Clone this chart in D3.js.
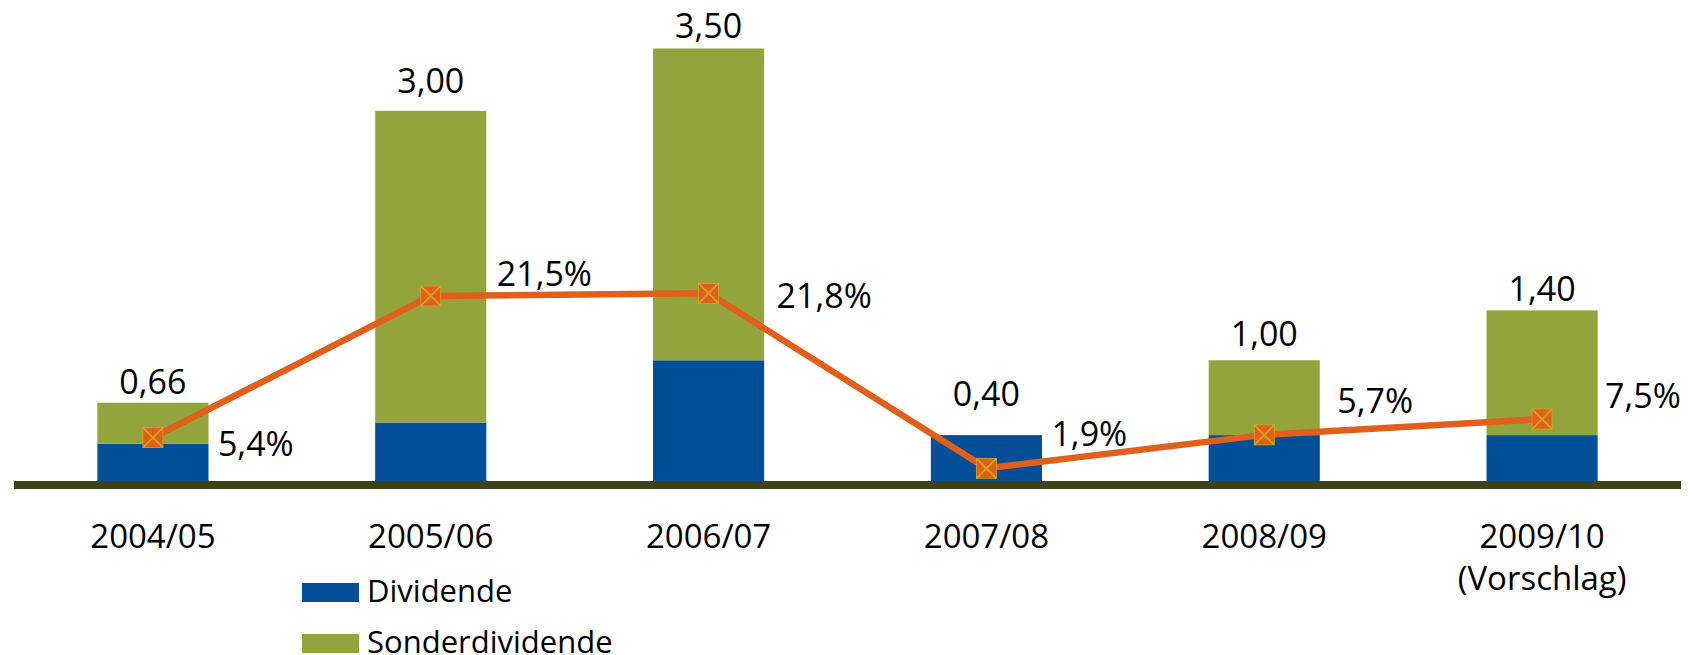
<!DOCTYPE html>
<html lang="de">

<head>
    <meta charset="UTF-8">
    <title>Dividende und Sonderdividende</title>
    <script src="https://d3js.org/d3.v7.min.js"></script>
    <style>
        body {
            margin: 0;
            background: #fff;
        }

        text {
            font-family: "Open Sans", "DejaVu Sans", sans-serif;
            fill: #000;
        }

        .value-label,
        .pct-label {
            font-size: 34px;
        }

        .cat-label {
            font-size: 33px;
        }

        .legend-label {
            font-size: 31px;
        }
    </style>
</head>

<body>
    <svg id="chart" width="1693" height="655"></svg>

    <script>
        // Data
        const categories = ["2004/05", "2005/06", "2006/07", "2007/08", "2008/09", "2009/10\n(Vorschlag)"];
        const dividende = [0.33, 0.50, 1.00, 0.40, 0.40, 0.40];
        const sonderdividende = [0.33, 2.50, 2.50, 0.00, 0.60, 1.00];
        const totals = ["0,66", "3,00", "3,50", "0,40", "1,00", "1,40"];
        const rendite = [5.4, 21.5, 21.8, 1.9, 5.7, 7.5];
        const renditeLabels = ["5,4%", "21,5%", "21,8%", "1,9%", "5,7%", "7,5%"];
        const seriesNames = ["Dividende", "Sonderdividende"];

        // Label placement (hand placed in the original)
        const totalGap = [9, 18, 11, 29, 14, 9];
        const pctDx = [65, 66, 68, 65, 73, 63];
        const pctDy = [18, -10, 15, -22, -22, -11];

        const colors = { div: "#004f98", sonder: "#94a43d", line: "#df5f1b", cross: "#d7a51e", axis: "#3c4219" };

        const svg = d3.select("#chart");

        const x = d3.scaleBand()
            .domain(categories)
            .range([14, 1681])
            .paddingInner(0.6)
            .paddingOuter(0.3);

        // Bars: primary axis
        const y = d3.scaleLinear()
            .domain([0, 3.5])
            .range([485, 48.5]);

        // Line: secondary axis (%)
        const y2 = d3.scaleLinear()
            .domain([0, 25])
            .range([485, 265.2]);

        const rows = categories.map((c, i) => ({
            cat: c,
            div: dividende[i],
            sonder: sonderdividende[i],
            total: totals[i],
            pct: rendite[i],
            pctLabel: renditeLabels[i],
            i: i
        }));

        const stack = d3.stack().keys(["div", "sonder"])(rows);

        svg.append("g")
            .selectAll("g")
            .data(stack)
            .join("g")
            .attr("fill", d => colors[d.key])
            .selectAll("rect")
            .data(d => d)
            .join("rect")
            .attr("x", d => x(d.data.cat))
            .attr("width", x.bandwidth())
            .attr("y", d => y(d[1]))
            .attr("height", d => y(d[0]) - y(d[1]));

        // Total labels above bars
        svg.selectAll(".value-label")
            .data(rows)
            .join("text")
            .attr("class", "value-label")
            .attr("text-anchor", "middle")
            .attr("x", d => x(d.cat) + x.bandwidth() / 2)
            .attr("y", d => y(d.div + d.sonder) - totalGap[d.i])
            .text(d => d.total);

        // Baseline axis
        const axis = svg.append("g")
            .attr("transform", "translate(0,485)")
            .call(d3.axisBottom(x).tickSize(0).tickSizeOuter(0));

        axis.select(".domain")
            .attr("stroke", colors.axis)
            .attr("stroke-width", 8)
            .attr("d", "M14,0H1681");

        axis.selectAll(".tick text").remove();
        axis.selectAll(".tick")
            .append("text")
            .attr("class", "cat-label")
            .attr("text-anchor", "middle")
            .attr("y", 63)
            .selectAll("tspan")
            .data(d => d.split("\n"))
            .join("tspan")
            .attr("x", 0)
            .attr("dy", (d, i) => i === 0 ? 0 : 41.5)
            .text(d => d);

        // Line of percentages
        const cx = d => x(d.cat) + x.bandwidth() / 2;

        const line = d3.line()
            .x(cx)
            .y(d => y2(d.pct));

        svg.append("path")
            .datum(rows)
            .attr("fill", "none")
            .attr("stroke", colors.line)
            .attr("stroke-width", 6.5)
            .attr("stroke-linejoin", "round")
            .attr("d", line);

        const s = 10;
        const markers = svg.selectAll(".marker")
            .data(rows)
            .join("g")
            .attr("class", "marker")
            .attr("transform", d => `translate(${cx(d)},${y2(d.pct)})`);

        markers.append("rect")
            .attr("x", -s).attr("y", -s)
            .attr("width", 2 * s).attr("height", 2 * s)
            .attr("fill", colors.line)
            .attr("stroke", colors.cross)
            .attr("stroke-width", 0.8);

        markers.append("path")
            .attr("d", `M${-s},${-s}L${s},${s}M${s},${-s}L${-s},${s}`)
            .attr("stroke", colors.cross)
            .attr("stroke-width", 1.8);

        svg.selectAll(".pct-label")
            .data(rows)
            .join("text")
            .attr("class", "pct-label")
            .attr("x", d => cx(d) + pctDx[d.i])
            .attr("y", d => y2(d.pct) + pctDy[d.i])
            .text(d => d.pctLabel);

        // Legend
        const legend = svg.append("g")
            .selectAll("g")
            .data(seriesNames)
            .join("g")
            .attr("transform", (d, i) => `translate(302,${583 + i * 51})`);

        legend.append("rect")
            .attr("width", 57)
            .attr("height", 19)
            .attr("fill", (d, i) => i === 0 ? colors.div : colors.sonder);

        legend.append("text")
            .attr("class", "legend-label")
            .attr("x", 65)
            .attr("y", 19)
            .text(d => d);
    </script>
</body>

</html>
